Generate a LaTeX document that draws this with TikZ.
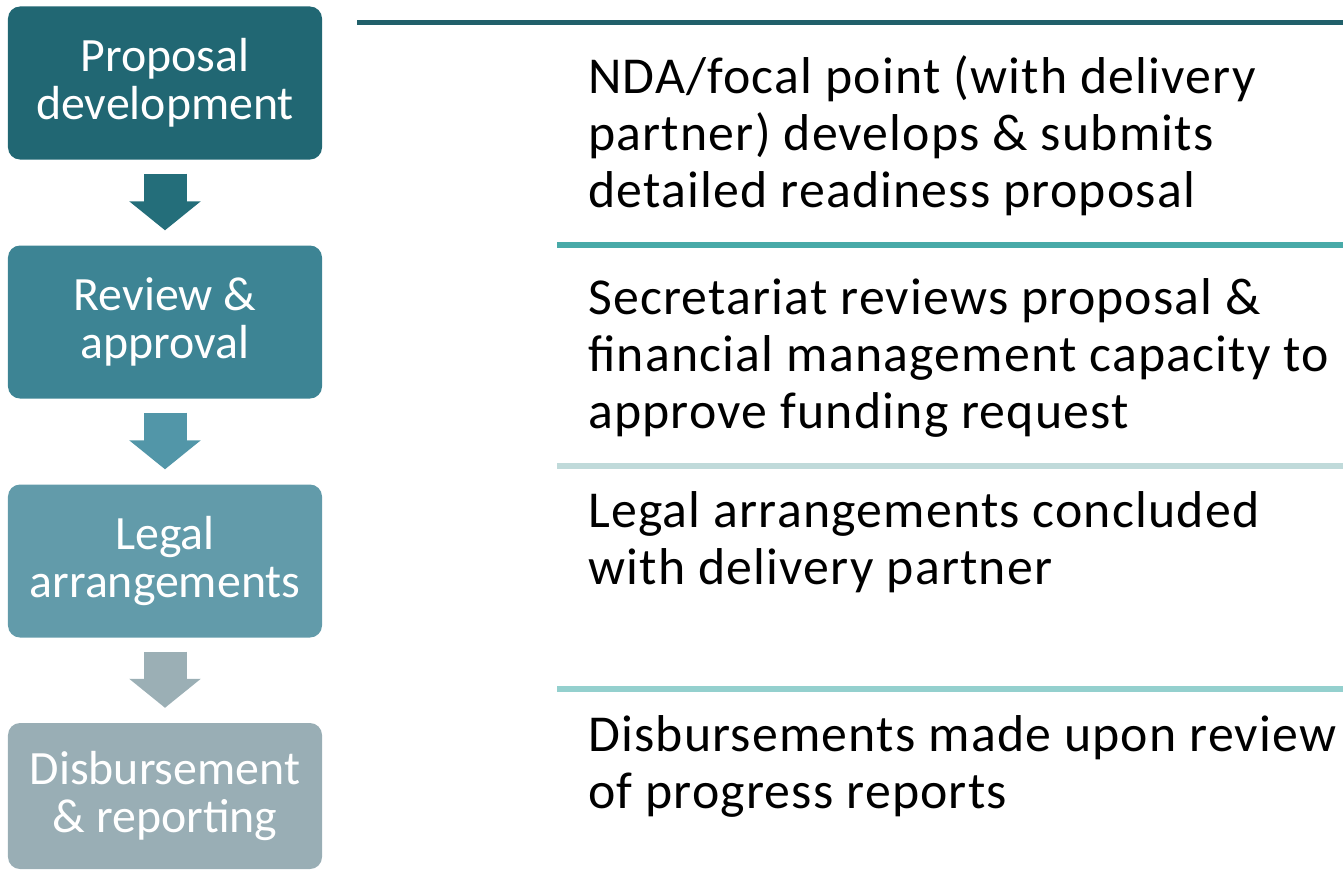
\documentclass[tikz,border=0pt]{standalone}
\usepackage{fontspec}
\setmainfont{Carlito}
\newfontfamily\sidefont[LetterSpace=2.3]{Carlito}
\usetikzlibrary{arrows.meta}
\usepackage{xcolor}
\definecolor{stepone}{HTML}{216773}
\definecolor{steptwo}{HTML}{3D8494}
\definecolor{stepthree}{HTML}{629BAA}
\definecolor{stepfour}{HTML}{99AEB5}
\definecolor{arrowone}{HTML}{246E7A}
\definecolor{arrowtwo}{HTML}{5296A8}
\definecolor{arrowthree}{HTML}{9BAFB5}
\definecolor{ruleone}{HTML}{21606A}
\definecolor{ruletwo}{HTML}{48AAA8}
\definecolor{rulethree}{HTML}{C0DADA}
\definecolor{rulefour}{HTML}{94D0CE}

\begin{document}
\begin{tikzpicture}[x=1bp,y=-1bp,
  stepbox/.style={rounded corners=12bp, minimum width=314bp, minimum height=153bp,
    inner sep=0pt, align=center, text=white, font=\fontsize{48}{48}\selectfont},
  blockarrow/.style={line width=43bp, -{Triangle[length=29bp,width=70bp]},
    shorten <=14bp, shorten >=15bp},
  sepline/.style={line width=6bp},
  desc/.style={anchor=base west, inner sep=0pt, align=left,
    font=\sidefont\fontsize{52}{57}\selectfont}
]
  \useasboundingbox (0,0) rectangle (1343,875);

  % steps
  \node[stepbox, fill=stepone] (p1) at (165,83) {Proposal\\development};
  \node[stepbox, fill=steptwo] (p2) at (165,322) {Review \&\\approval};
  \node[stepbox, fill=stepthree] (p3) at (165,561) {Legal\\arrangements};
  \node[stepbox, fill=stepfour, minimum height=146bp] (p4) at (165,796) {Disbursement\\\& reporting};

  \draw[blockarrow, arrowone] (p1) -- (p2);
  \draw[blockarrow, arrowtwo] (p2) -- (p3);
  \draw[blockarrow, arrowthree] (p3) -- (p4);

  % separators
  \coordinate (r1a) at (357,22.5);  \coordinate (r1b) at (1343,22.5);
  \coordinate (r2a) at (557,245);   \coordinate (r2b) at (1343,245);
  \coordinate (r3a) at (557,466);   \coordinate (r3b) at (1343,466);
  \coordinate (r4a) at (557,689);   \coordinate (r4b) at (1343,689);
  \draw[sepline, ruleone, line width=5bp] (r1a) -- (r1b);
  \draw[sepline, ruletwo] (r2a) -- (r2b);
  \draw[sepline, rulethree] (r3a) -- (r3b);
  \draw[sepline, rulefour] (r4a) -- (r4b);

  % descriptions (anchored on the last line)
  \node[desc] (d1) at (588,207) {NDA/focal point (with delivery\\partner) develops \& submits\\detailed readiness proposal};
  \node[desc] (d2) at (588,428) {Secretariat reviews proposal \&\\financial management capacity to\\approve funding request};
  \node[desc] (d3) at (588,584) {Legal arrangements concluded\\with delivery partner};
  \node[desc] (d4) at (588,808) {Disbursements made upon review\\of progress reports};
\end{tikzpicture}
\end{document}
